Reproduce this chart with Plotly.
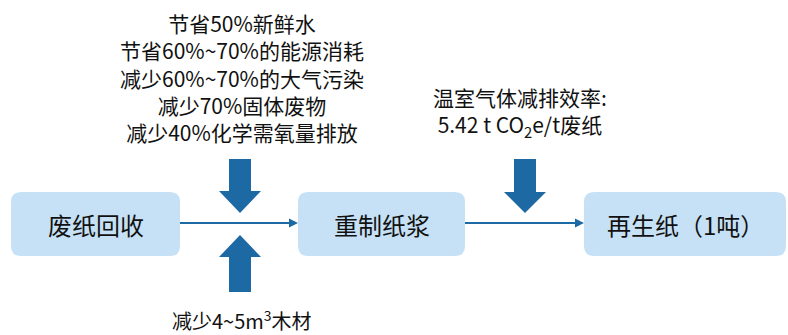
import plotly.graph_objects as go

# Diagram content
box_labels = ["废纸回收", "重制纸浆", "再生纸（1吨）"]
box_x0 = [11, 298, 584]
box_x1 = [180, 465, 786]
box_y = [192, 256]

top_left_lines = ["节省50%新鲜水", "节省60%~70%的能源消耗", "减少60%~70%的大气污染",
                  "减少70%固体废物", "减少40%化学需氧量排放"]
top_right_lines = ["温室气体减排效率:", "5.42 t CO<sub>2</sub>e/t废纸"]
bottom_lines = ["减少4~5m<sup>3</sup>木材"]

BOX = "#c6e1f6"
DARK = "#1c69a4"
FONT = "Noto Sans CJK SC, Liberation Sans, sans-serif"

fig = go.Figure()
fig.add_trace(go.Scatter(x=[0, 788], y=[0, 335], mode="markers", marker=dict(opacity=0), hoverinfo="skip", showlegend=False))

def rrect(x0, y0, x1, y1, r=10):
    return (f"M{x0+r},{y0} L{x1-r},{y0} Q{x1},{y0} {x1},{y0+r} L{x1},{y1-r} Q{x1},{y1} {x1-r},{y1} "
            f"L{x0+r},{y1} Q{x0},{y1} {x0},{y1-r} L{x0},{y0+r} Q{x0},{y0} {x0+r},{y0} Z")

shapes = []
annotations = []
for lab, a, b in zip(box_labels, box_x0, box_x1):
    shapes.append(dict(type="path", path=rrect(a, box_y[0], b, box_y[1]), fillcolor=BOX,
                       line=dict(width=0), xref="x", yref="y", layer="below"))
    annotations.append(dict(x=(a + b) / 2, y=224, text=lab, showarrow=False, xref="x", yref="y",
                            font=dict(size=24, color="#111111", family=FONT)))

# thin connecting arrows
for x_start, x_end in [(box_x1[0], box_x0[1]), (box_x1[1], box_x0[2])]:
    shapes.append(dict(type="line", x0=x_start, x1=x_end - 6, y0=223, y1=223, xref="x", yref="y",
                       line=dict(color=DARK, width=1.8)))
    shapes.append(dict(type="path", path=f"M{x_end-9},{218.5} L{x_end},{223} L{x_end-9},{227.5} Z",
                       fillcolor=DARK, line=dict(width=0), xref="x", yref="y"))

def down_arrow(cx, top, base, tip, sw=11, hw=21):
    return (f"M{cx-sw},{top} L{cx+sw},{top} L{cx+sw},{base} L{cx+hw},{base} L{cx},{tip} "
            f"L{cx-hw},{base} L{cx-sw},{base} Z")

shapes.append(dict(type="path", path=down_arrow(240, 159, 191, 213), fillcolor=DARK, line=dict(width=0), xref="x", yref="y"))
shapes.append(dict(type="path", path=down_arrow(240, 292, 257, 235), fillcolor=DARK, line=dict(width=0), xref="x", yref="y"))
shapes.append(dict(type="path", path=down_arrow(525, 159, 192, 213), fillcolor=DARK, line=dict(width=0), xref="x", yref="y"))

annotations.append(dict(x=242, y=77, text="<br>".join(top_left_lines), showarrow=False, xref="x", yref="y",
                        align="center", font=dict(size=21, color="#111111", family=FONT)))
annotations.append(dict(x=520, y=112, text="<br>".join(top_right_lines), showarrow=False, xref="x", yref="y",
                        align="center", font=dict(size=21, color="#111111", family=FONT)))
for t in bottom_lines:
    annotations.append(dict(x=242, y=320, text=t, showarrow=False, xref="x", yref="y",
                            font=dict(size=20, color="#111111", family=FONT)))

fig.update_layout(
    width=788, height=335, margin=dict(l=0, r=0, t=0, b=0),
    paper_bgcolor="white", plot_bgcolor="white",
    xaxis=dict(range=[0, 788], visible=False, fixedrange=True),
    yaxis=dict(range=[335, 0], visible=False, fixedrange=True),
    shapes=shapes, annotations=annotations, showlegend=False,
)
fig.write_html("out.html")
